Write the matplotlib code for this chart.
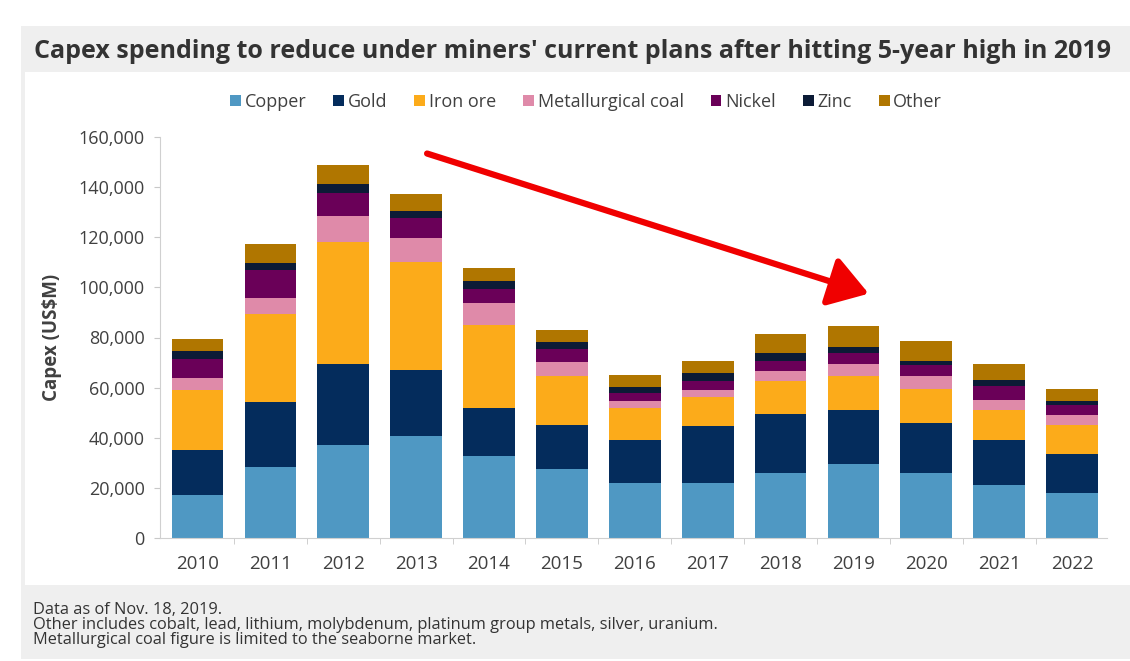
import numpy as np
import matplotlib.pyplot as plt
from matplotlib.patches import Rectangle, FancyArrowPatch
from matplotlib.ticker import FuncFormatter, FixedLocator

years = ['2010', '2011', '2012', '2013', '2014', '2015', '2016',
         '2017', '2018', '2019', '2020', '2021', '2022']

# capex by commodity, US$M
copper = [17000, 28400, 37000, 40600, 32600, 27700, 21800, 21800, 26100, 29700, 26100, 21100, 17800]
gold = [18000, 25900, 32500, 26500, 19400, 17500, 17500, 22800, 23300, 21500, 19800, 18200, 15900]
iron_ore = [24000, 35100, 48700, 43200, 33100, 19300, 12600, 11600, 13100, 13300, 13700, 11900, 11300]
met_coal = [5000, 6400, 10400, 9600, 8600, 5700, 2700, 2700, 4100, 5000, 4900, 4000, 4000]
nickel = [7500, 11100, 9200, 7700, 5800, 5300, 3200, 3700, 4000, 4300, 4400, 5300, 3900]
zinc = [3000, 3000, 3600, 2900, 3200, 2600, 2400, 3200, 3200, 2300, 1900, 2400, 1700]
other = [5000, 7400, 7300, 6700, 5100, 4900, 4900, 5000, 7700, 8300, 8000, 6600, 5000]

series = [('Copper', copper, '#4f98c3'),
          ('Gold', gold, '#042c5c'),
          ('Iron ore', iron_ore, '#fcab1a'),
          ('Metallurgical coal', met_coal, '#df8aa9'),
          ('Nickel', nickel, '#6a0058'),
          ('Zinc', zinc, '#0c1b36'),
          ('Other', other, '#b07600')]

notes = ['Data as of Nov. 18, 2019.',
         'Other includes cobalt, lead, lithium, molybdenum, platinum group metals, silver, uranium.',
         'Metallurgical coal figure is limited to the seaborne market.']

plt.rcParams['font.family'] = ['Open Sans', 'DejaVu Sans']

W, H = 1130, 661
fig = plt.figure(figsize=(W / 100, H / 100), dpi=100)
fig.patch.set_facecolor('white')

# grey card with a white chart body
def px_rect(x0, y0, x1, y1, color):
    fig.patches.append(Rectangle((x0 / W, 1 - y1 / H), (x1 - x0) / W, (y1 - y0) / H,
                                 transform=fig.transFigure, facecolor=color,
                                 edgecolor='none', zorder=-10))

px_rect(21, 26, 1130, 659, '#efefef')
px_rect(25, 72, 1130, 585, 'white')

fig.text(34 / W, 1 - 51 / H, "Capex spending to reduce under miners' current plans after hitting 5-year high in 2019",
         fontsize=18, fontweight='bold', color='#333333', va='center', ha='left')

for i, line in enumerate(notes):
    fig.text(33 / W, 1 - (610 + i * 15) / H, line, fontsize=11.8, color='#333333',
             va='center', ha='left')

ax = fig.add_axes([160 / W, 1 - 538 / H, (1107 - 160) / W, (538 - 137) / H])
x = np.arange(len(years))
bottom = np.zeros(len(years))
handles = []
for name, vals, col in series:
    b = ax.bar(x, vals, 0.71, bottom=bottom, color=col, label=name, zorder=2)
    bottom += np.array(vals)
    handles.append(b)

ax.set_xlim(-0.515, 12.48)
ax.set_ylim(0, 160000)
ax.set_yticks(np.arange(0, 160001, 20000))
ax.yaxis.set_major_formatter(FuncFormatter(lambda v, p: f'{int(v):,}'))
ax.set_xticks(x)
ax.set_xticklabels(years)
ax.xaxis.set_minor_locator(FixedLocator(np.arange(0.5, 12.6, 1.0)))
ax.tick_params(axis='x', which='major', length=0, pad=12, labelsize=13.5, labelcolor='#404040')
ax.tick_params(axis='x', which='minor', length=4, color='#c8c8c8')
ax.tick_params(axis='y', length=4, color='#c8c8c8', pad=7, labelsize=13, labelcolor='#404040')
for s in ['top', 'right']:
    ax.spines[s].set_visible(False)
for s in ['left', 'bottom']:
    ax.spines[s].set_color('#d0d0d0')
ax.set_ylabel('Capex (US$M)', fontsize=13.5, fontweight='bold', color='#404040', labelpad=12)
ax.set_facecolor('none')

fig.legend(handles=handles, loc='center', bbox_to_anchor=(586 / W, 1 - 102 / H), ncol=7,
           frameon=False, fontsize=13, handlelength=0.6, handleheight=0.6,
           handletextpad=0.2, columnspacing=1.5, labelcolor='#404040')

# downward trend arrow
arrow = FancyArrowPatch((3.15, 153400), (9.21, 97500), arrowstyle='-|>,head_length=1.7,head_width=1.1',
                        mutation_scale=14, color='#f00000', lw=4.5, zorder=5, shrinkA=0, shrinkB=0)
ax.add_patch(arrow)

fig.savefig('out.png', dpi=100)
